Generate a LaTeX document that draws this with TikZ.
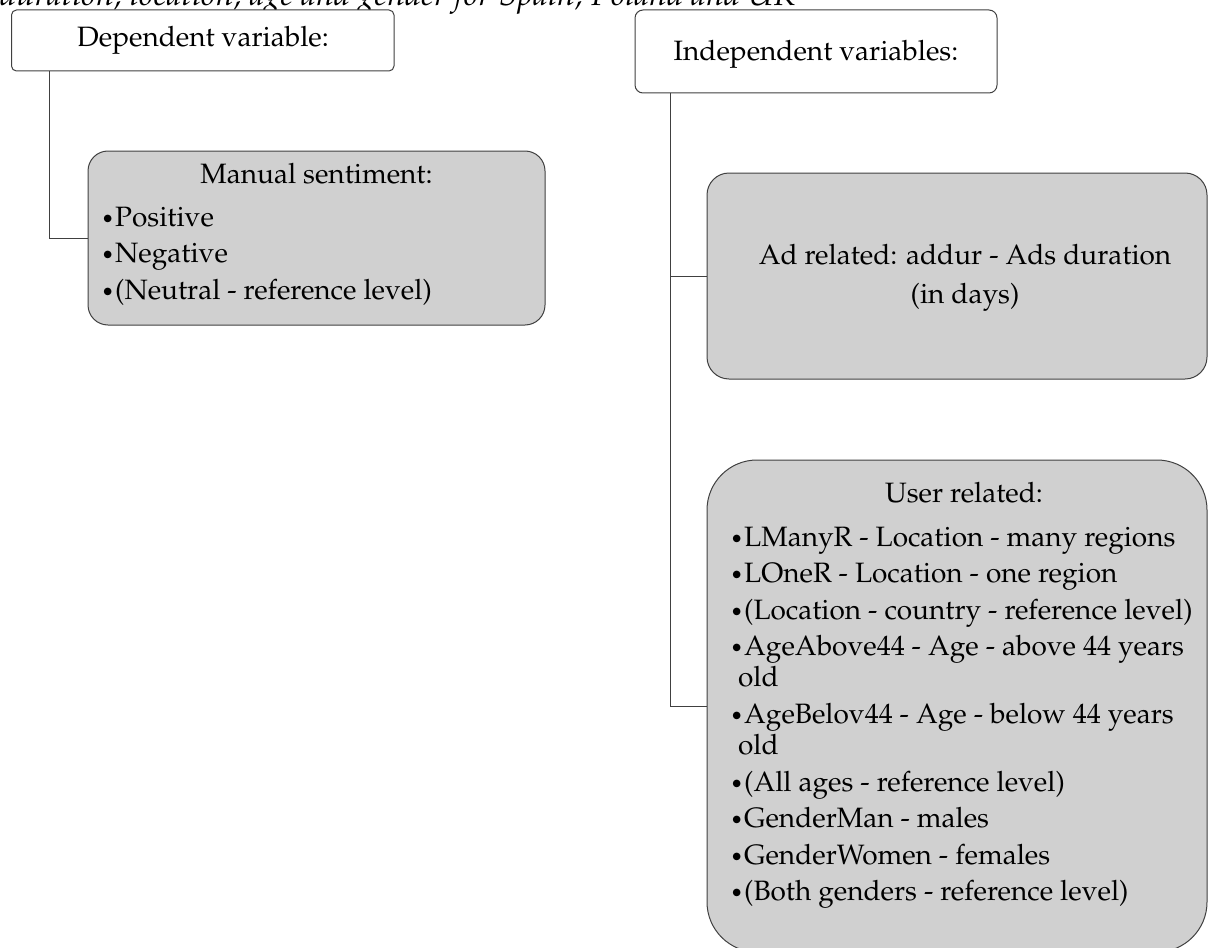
\documentclass[tikz,border=0pt]{standalone}
\usepackage[T1]{fontenc}
\usepackage{mathpazo}
\definecolor{boxgray}{RGB}{208,208,208}
\definecolor{edgegray}{RGB}{64,64,64}
\newcommand{\mybul}{\makebox[14pt][l]{\fontsize{22}{22}\selectfont\textbullet}}
\begin{document}
\begin{tikzpicture}[x=1pt,y=-1pt,
  txt/.style={inner sep=0pt, font=\fontsize{28}{31}\selectfont},
  lbl/.style={txt, anchor=base west},
  ttl/.style={txt, anchor=base},
  wbox/.style={draw=edgegray, line width=1pt, fill=white, inner sep=0pt},
  gbox/.style={draw=edgegray, line width=1pt, fill=boxgray, inner sep=0pt},
  link/.style={draw=edgegray, line width=1pt}]
\useasboundingbox (0,0) rectangle (1209,947);
\clip (0,0) rectangle (1209,947);
% caption (cut off at the top, as in the reference)
\node[lbl, font=\fontsize{32.5}{36}\selectfont\itshape] (cap) at (0,6) {duration, location, age and gender for Spain, Poland and UK};
% boxes
\node[wbox, rounded corners=5pt, minimum width=382.5pt, minimum height=61pt] (dep) at (202.75,40.5) {};
\node[gbox, rounded corners=20pt, minimum width=457pt, minimum height=174pt] (man) at (316.5,238) {};
\node[wbox, rounded corners=8pt, minimum width=362pt, minimum height=83pt] (ind) at (816,51.5) {};
\node[gbox, rounded corners=22pt, minimum width=500pt, minimum height=206pt] (ad) at (957,276) {};
\node[gbox, rounded corners=50pt, minimum width=500pt, minimum height=492pt] (user) at (957,706) {};
% connectors
\draw[link] ([xshift=38.5pt]dep.south west) |- (man.west);
\draw[link] ([xshift=36pt]ind.south west) |- (ad.west);
\draw[link] ([xshift=36pt]ind.south west) |- (user.west);
% texts
\node[ttl] (deptxt) at (203,47) {Dependent variable:};
\node[ttl] (mantitle) at (316.5,183) {Manual sentiment:};
\node[lbl] (m1) at (101,226) {\mybul Positive};
\node[lbl] (m2) at (101,262.5) {\mybul Negative};
\node[lbl] (m3) at (101,299) {\mybul (Neutral - reference level)};
\node[ttl] (indtxt) at (816,61) {Independent variables:};
\node[ttl] (ad1) at (965,264) {Ad related: addur - Ads duration};
\node[ttl] (ad2) at (965,303) {(in days)};
\node[ttl] (usertitle) at (964,502) {User related:};
\node[lbl] (u1) at (730,546) {\mybul LManyR - Location - many regions};
\node[lbl] (u2) at (730,582.6) {\mybul LOneR - Location - one region};
\node[lbl] (u3) at (730,619.2) {\mybul (Location - country - reference level)};
\node[lbl] (u4) at (730,655.8) {\mybul AgeAbove44 - Age - above 44 years};
\node[lbl] (u4b) at (738,686.8) {old};
\node[lbl] (u5) at (730,723.4) {\mybul AgeBelov44 - Age - below 44 years};
\node[lbl] (u5b) at (738,754.4) {old};
\node[lbl] (u6) at (730,791) {\mybul (All ages - reference level)};
\node[lbl] (u7) at (730,827.6) {\mybul GenderMan - males};
\node[lbl] (u8) at (730,864.2) {\mybul GenderWomen - females};
\node[lbl] (u9) at (730,900.8) {\mybul (Both genders - reference level)};
\end{tikzpicture}
\end{document}
